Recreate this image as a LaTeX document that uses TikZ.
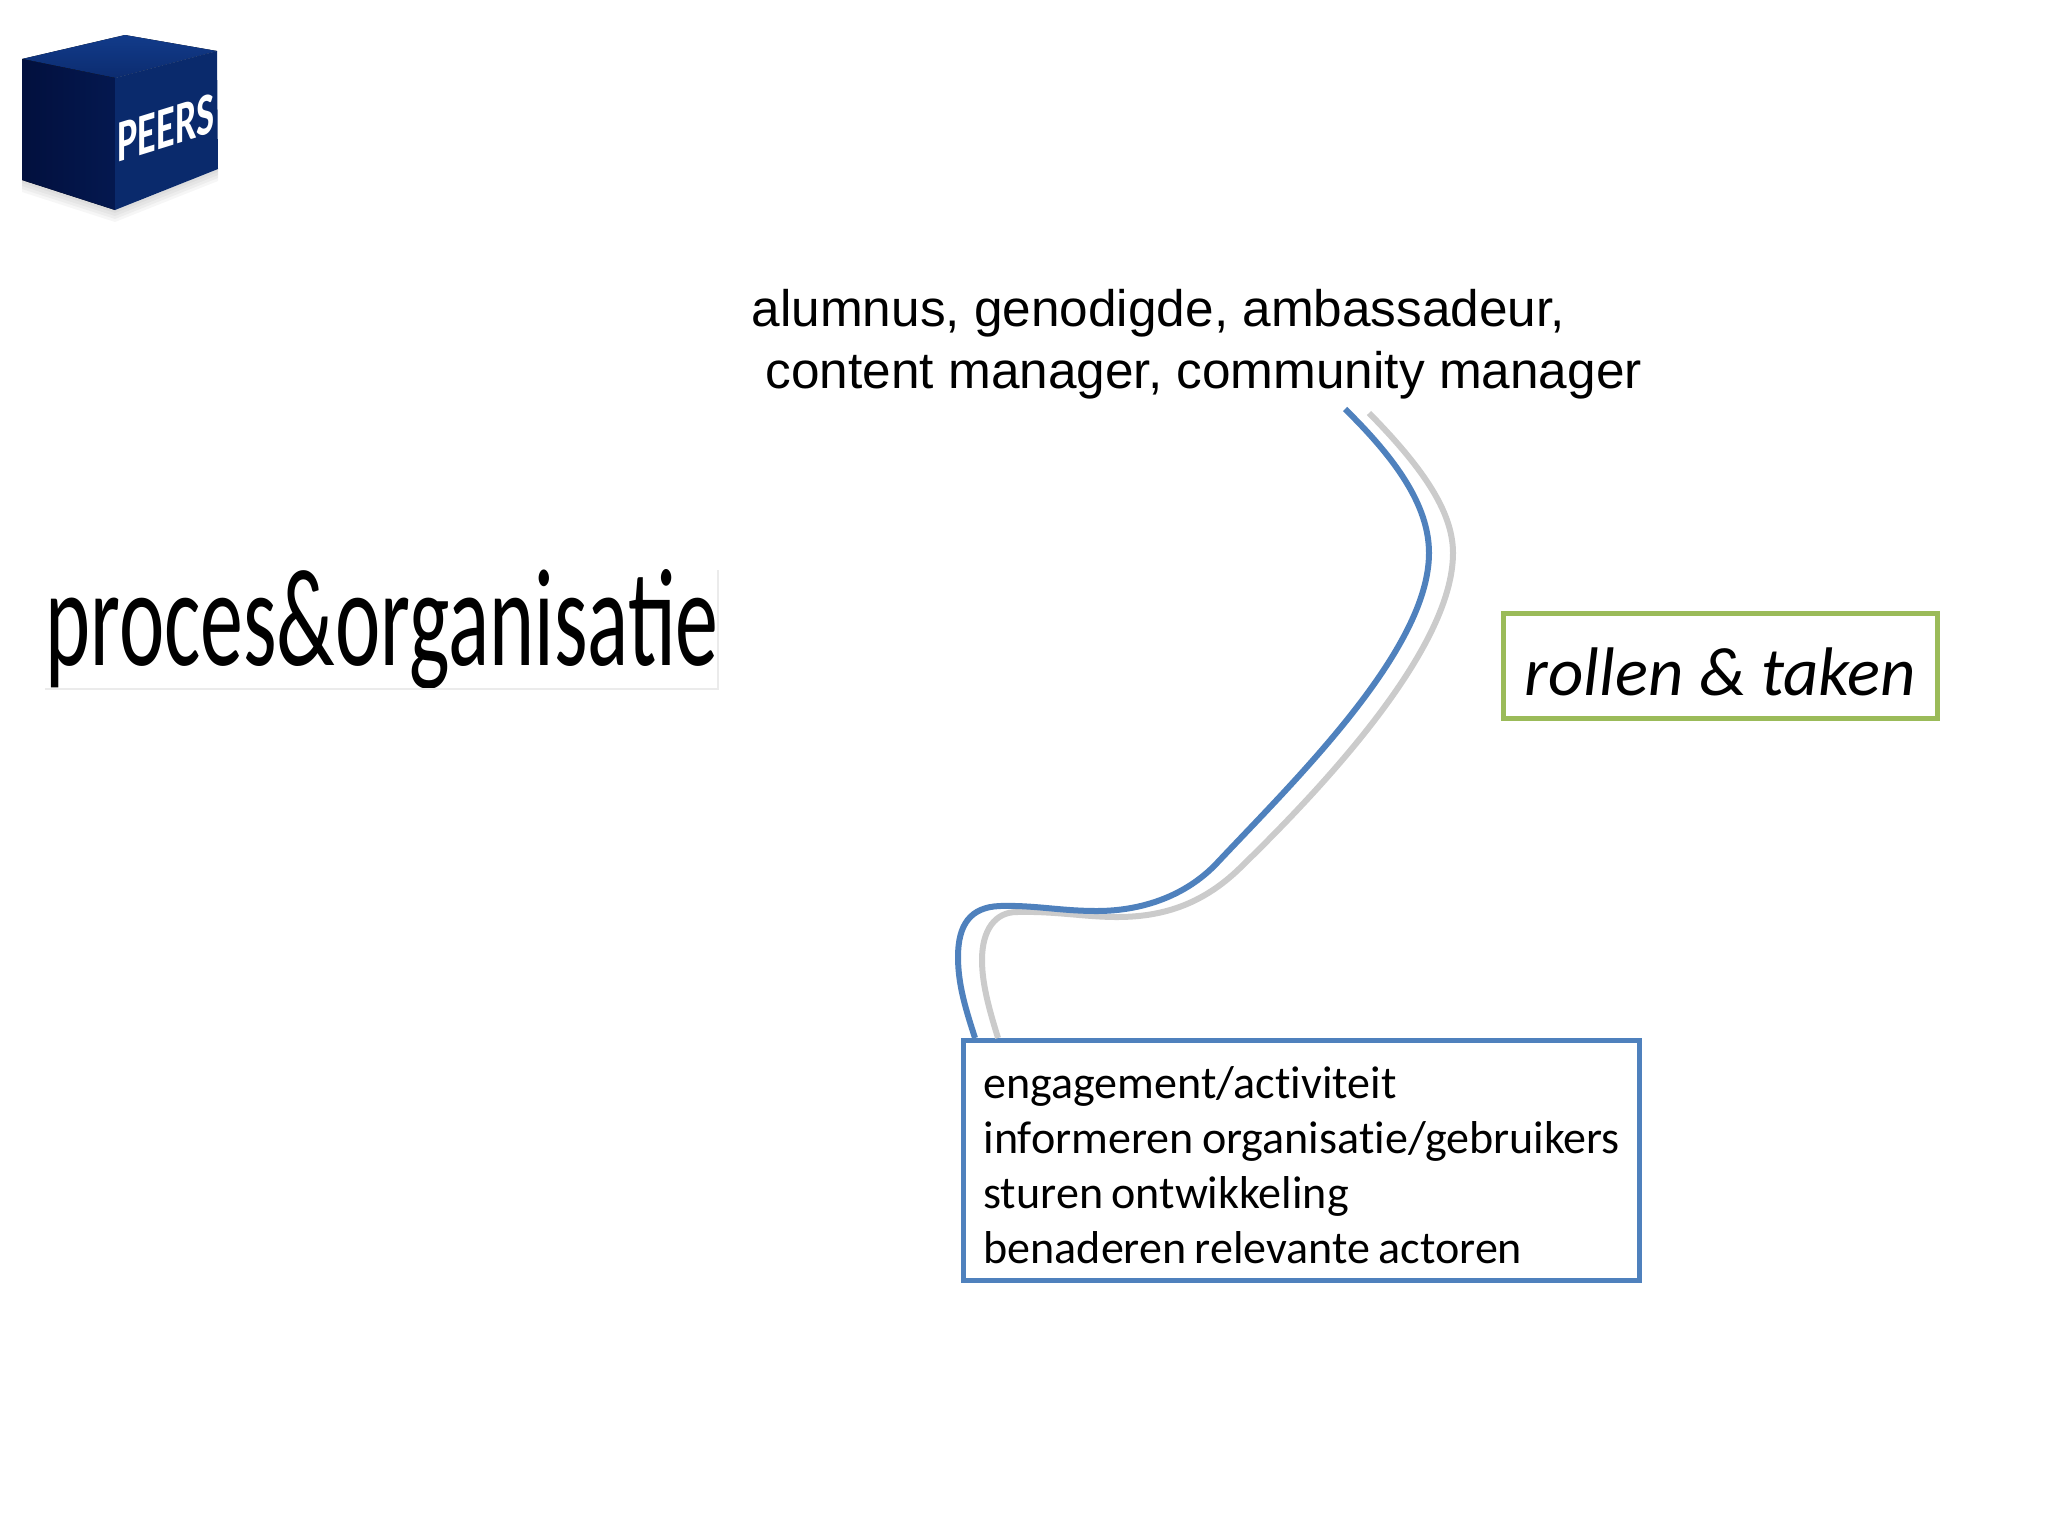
\documentclass[tikz,border=0pt]{standalone}
\usepackage{fontspec}
\setmainfont{Carlito}
\newfontfamily\arialfont{Liberation Sans}
\newfontfamily\bodyfont[Ligatures=NoCommon, WordSpace=0.8]{Carlito}
\usepackage{xcolor}
\usetikzlibrary{calc, positioning}
\definecolor{linkBlue}{HTML}{4F81BD}
\definecolor{linkGray}{HTML}{CBCBCB}
\definecolor{tagGreen}{HTML}{9BBB59}
\definecolor{cubeTop}{HTML}{123B8A}
\definecolor{cubeTopDark}{HTML}{0C2C70}
\definecolor{cubeFront}{HTML}{0A2A6C}
\definecolor{cubeSide}{HTML}{02103E}
\definecolor{cubeSideLight}{HTML}{04184F}
\tikzset{
    linkLine/.style={line width=0.06cm},
    rolesText/.style={font=\arialfont\fontsize{14.6}{17.4}\selectfont, align=left, anchor=north west, inner sep=0pt},
    titleText/.style={font=\fontsize{39.5}{39.5}\selectfont, anchor=base west, inner sep=0pt},
    tagBox/.style={rectangle, draw=tagGreen, line width=0.05cm, minimum width=4.33cm, minimum height=1.04cm, text height=0.63cm, text depth=0.05cm, inner sep=0pt, font=\itshape\fontsize{19.55}{22}\selectfont},
    taskBox/.style={rectangle, draw=linkBlue, line width=0.05cm, align=left, anchor=north west, minimum width=6.76cm, minimum height=2.40cm, inner sep=0pt, font=\bodyfont\fontsize{13.1}{15.6}\selectfont}
}
\begin{document}
\begin{tikzpicture}[x=0.01cm, y=-0.01cm]
    \useasboundingbox (0,0) rectangle (2048,1536);

    % Cube logo
    \foreach \s in {12,9,6,3} {
        \fill[black, opacity=0.035] (22,180) -- ++(0,\s) -- (115,{210+\s}) -- (218,{169+\s}) -- (218,169) -- (115,210) -- cycle;
    }
    \fill[top color=cubeTop, bottom color=cubeTopDark] (125,35) -- (217,51) -- (115,78) -- (22,59) -- cycle;
    \fill[left color=cubeSide, right color=cubeSideLight] (22,59) -- (115,78) -- (115,210) -- (22,180) -- cycle;
    \fill[cubeFront] (115,78) -- (217,51) -- (218,169) -- (115,210) -- cycle;
    \node[name=logoText, transform shape, yslant=0.31, xscale=0.64, text=white, inner sep=0pt, font=\bfseries\fontsize{17}{17}\selectfont] at (166,128) {PEERS};

    % Labels
    \node[titleText, xscale=0.618] (procesTitle) at (45,665) {proces\&organisatie};
    \draw[black!8] (procesTitle.base west |- 0,689) -- (718,689) -- (718,570);
    \node[rolesText] (rolesLabel) at (751,289) {alumnus, genodigde, ambassadeur,\\\hspace*{0.14cm}content manager, community manager};
    \node[tagBox] (tagLabel) at (1720.5,666) {rollen \& taken};
    \node[taskBox] (taskList) at (961,1038) {\rule{0pt}{0.41cm}engagement/activiteit\\informeren organisatie/gebruikers\\sturen ontwikkeling\\benaderen relevante actoren};

    % Connector ends
    \coordinate (blueEnd) at ([xshift=0.14cm]taskList.north west);
    \coordinate (grayEnd) at ([xshift=0.37cm]taskList.north west);

    % Shadow line first, blue on top
    \draw[linkLine, linkGray] (1369,413) .. controls (1420,465) and (1453,510) .. (1453,553)
        .. controls (1453,650) and (1320,790) .. (1240,868)
        .. controls (1201,906) and (1160,917) .. (1117,917)
        .. controls (1085,917) and (1055,911) .. (1017,912)
        .. controls (995,912) and (982,930) .. (982,960)
        .. controls (982,985) and (990,1012) .. (grayEnd);
    \draw[linkLine, linkBlue] (1345,409) .. controls (1395,458) and (1429,505) .. (1429,553)
        .. controls (1429,650) and (1295,780) .. (1217,863)
        .. controls (1185,897) and (1140,911) .. (1097,911)
        .. controls (1060,911) and (1035,905) .. (1000,906)
        .. controls (970,907) and (958,925) .. (958,957)
        .. controls (958,985) and (966,1010) .. (blueEnd);
\end{tikzpicture}
\end{document}
